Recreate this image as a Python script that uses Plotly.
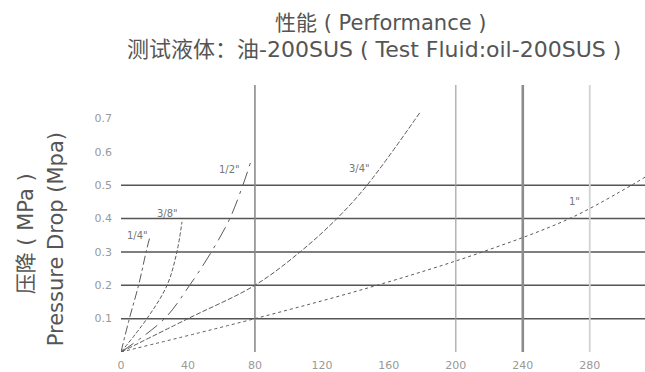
import plotly.graph_objects as go

# Flow (x) vs pressure drop (MPa) for each hose size
sizes = ['1/4"', '3/8"', '1/2"', '3/4"', '1"']
flow = [
    [0, 5.0, 10.5, 15.0, 17.0],
    [0, 15.5, 27.5, 33.4, 36.4],
    [0, 26.0, 41.0, 54.0, 65.0, 72.8, 77.5],
    [0, 40.0, 80.0, 107.0, 129.0, 147.0, 178.5],
    [0, 80.0, 153.0, 216.0, 268.0, 305.0, 313.0],
]
drop = [
    [0, 0.1, 0.2, 0.3, 0.34],
    [0, 0.1, 0.2, 0.3, 0.39],
    [0, 0.1, 0.2, 0.3, 0.4, 0.5, 0.57],
    [0, 0.1, 0.2, 0.3, 0.4, 0.5, 0.717],
    [0, 0.1, 0.2, 0.3, 0.4, 0.5, 0.524],
]
# where each size label sits
label_x = [9.6, 27.5, 65.0, 142.7, 271.0]
label_y = [0.35, 0.415, 0.548, 0.55, 0.45]

x_ticks = [0, 40, 80, 120, 160, 200, 240, 280]
y_ticks = [0.1, 0.2, 0.3, 0.4, 0.5, 0.6, 0.7]
h_grid = [0.1, 0.2, 0.3, 0.4, 0.5]
v_grid = [80, 200, 240, 280]

dashes = ["dashdot", "4px,2px", "longdashdot", "5px,2px", "dot"]
v_styles = [("#8a8a8a", 1.6), ("#a0a0a0", 1.2), ("#8c8c8c", 2.6), ("#d2d2d2", 1.8)]

fig = go.Figure()
for name, xs, ys, dash in zip(sizes, flow, drop, dashes):
    fig.add_trace(go.Scatter(
        x=xs, y=ys, mode="lines", name=name,
        line=dict(color="#5a5a5a", width=1, dash=dash, shape="spline", smoothing=1.0),
        showlegend=False, hoverinfo="skip",
    ))

shapes = []
for yv in h_grid:
    shapes.append(dict(type="line", xref="x", yref="y", x0=0, x1=313, y0=yv, y1=yv,
                       line=dict(color="#555555", width=1.5), layer="below"))
for xv, (col, w) in zip(v_grid, v_styles):
    shapes.append(dict(type="line", xref="x", yref="y", x0=xv, x1=xv, y0=0, y1=0.8,
                       line=dict(color=col, width=w), layer="below"))

annotations = []
for name, lx, ly in zip(sizes, label_x, label_y):
    annotations.append(dict(x=lx, y=ly, xref="x", yref="y", text=name, showarrow=False,
                            xanchor="center", yanchor="middle",
                            font=dict(size=10, color="#777777", family="DejaVu Sans")))

title_font = dict(family="DejaVu Sans, Noto Sans CJK SC", color="#555555")
annotations += [
    dict(text="性能 ( Performance )", x=381, y=372 - 22, xref="paper", yref="paper",
         showarrow=False, font=dict(size=21, **title_font)),
    dict(text="测试液体：油-200SUS ( Test Fluid:oil-200SUS )", x=374, y=372 - 49,
         xref="paper", yref="paper", showarrow=False, font=dict(size=22, **title_font)),
    dict(text="压降 ( MPa )", x=26, y=372 - 236, xref="paper", yref="paper",
         showarrow=False, textangle=-90, font=dict(size=21, **title_font)),
    dict(text="Pressure Drop (Mpa)", x=56, y=372 - 241, xref="paper", yref="paper",
         showarrow=False, textangle=-90, font=dict(size=21, **title_font)),
]

# convert the pixel-placed titles into paper coordinates of the plot area
L, R, T, B = 121, 0, 85, 17
W, H = 645, 372
pw, ph = W - L - R, H - T - B
for a in annotations:
    if a["xref"] == "paper":
        a["x"] = (a["x"] - L) / pw
        a["y"] = (a["y"] - B) / ph
        a["xanchor"] = "center"
        a["yanchor"] = "middle"

fig.update_layout(
    width=W, height=H,
    margin=dict(l=L, r=R, t=T, b=B),
    paper_bgcolor="white", plot_bgcolor="white",
    shapes=shapes, annotations=annotations,
    xaxis=dict(range=[0, 313], tickvals=x_ticks, ticktext=[str(v) for v in x_ticks],
               showgrid=False, zeroline=False, showline=False, ticks="",
               ticklabelstandoff=5,
               tickfont=dict(size=11, color="#999999", family="DejaVu Sans")),
    yaxis=dict(range=[0, 0.8], tickvals=y_ticks, ticktext=[f"{v:.1f}" for v in y_ticks],
               showgrid=False, zeroline=False, showline=False, ticks="",
               ticklabelstandoff=8,
               tickfont=dict(size=11, color="#999999", family="DejaVu Sans")),
)

fig.write_html("out.html")
